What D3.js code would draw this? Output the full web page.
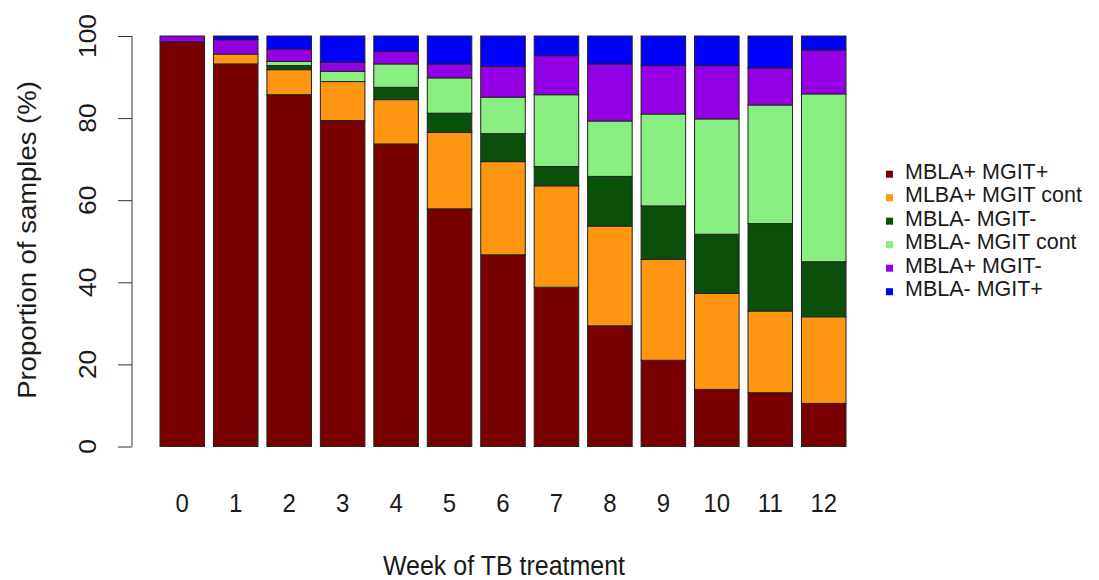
<!DOCTYPE html>
<html>
<head>
<meta charset="utf-8">
<script src="https://cdn.jsdelivr.net/npm/d3@7"></script>
<style>
  body { margin: 0; background: #fff; }
  text { font-family: "Liberation Sans", Arial, Helvetica, sans-serif; fill: #1a1a1a; }
</style>
</head>
<body>
<div id="chart"></div>
<script>
// Weeks of treatment (x categories)
const weeks = ["0", "1", "2", "3", "4", "5", "6", "7", "8", "9", "10", "11", "12"];

// Series, bottom to top (percent of samples)
const mblaPosMgitPos   = [98.6, 93.2, 85.7, 79.4, 73.7, 57.9, 46.7, 38.8, 29.4, 21.0, 13.9, 13.1, 10.5];
const mlbaPosMgitCont  = [0, 2.4, 6.1, 9.5, 10.8, 18.6, 22.7, 24.7, 24.3, 24.6, 23.4, 19.9, 21.1];
const mblaNegMgitNeg   = [0, 0, 1.0, 0, 3.0, 4.7, 6.8, 4.7, 12.1, 13.0, 14.4, 21.3, 13.4];
const mblaNegMgitCont  = [0, 0, 1.0, 2.5, 5.7, 8.6, 8.9, 17.5, 13.5, 22.4, 28.1, 28.9, 40.9];
const mblaPosMgitNeg   = [1.4, 3.5, 3.0, 2.2, 3.0, 3.4, 7.5, 9.5, 13.9, 11.8, 13.0, 9.0, 10.7];
const mblaNegMgitPos   = [0, 0.9, 3.2, 6.4, 3.8, 6.8, 7.4, 4.8, 6.8, 7.2, 7.2, 7.8, 3.4];

const seriesNames = ["MBLA+ MGIT+", "MLBA+ MGIT cont", "MBLA- MGIT-", "MBLA- MGIT cont", "MBLA+ MGIT-", "MBLA- MGIT+"];
const seriesValues = [mblaPosMgitPos, mlbaPosMgitCont, mblaNegMgitNeg, mblaNegMgitCont, mblaPosMgitNeg, mblaNegMgitPos];
const seriesColors = ["#780000", "#ff9612", "#0a500a", "#88ee80", "#9400e6", "#0000ff"];
const yTicks = [0, 20, 40, 60, 80, 100];

// build rows for d3.stack
const rows = weeks.map((w, i) => {
    const r = { week: w };
    seriesNames.forEach((s, j) => { r[s] = seriesValues[j][i]; });
    return r;
});

const width = 1099, height = 580;
const stretch = 1.1;   // text in the reference is slightly taller than wide

const svg = d3.select("#chart")
    .append("svg")
    .attr("width", width)
    .attr("height", height);

// x: bars from 160 to 846, gap = 0.2 * bar width
const x = d3.scaleBand()
    .domain(weeks)
    .range([160, 846])
    .paddingInner(0.2 / 1.2)
    .paddingOuter(0);

const y = d3.scaleLinear()
    .domain([0, 100])
    .range([446.5, 36]);

const stacked = d3.stack().keys(seriesNames)(rows);

// Draw the stacked bars
svg.append("g")
    .selectAll("g")
    .data(stacked)
    .enter()
    .append("g")
    .attr("fill", (d, i) => seriesColors[i])
    .selectAll("rect")
    .data(d => d.filter(p => p[1] - p[0] > 0))
    .enter()
    .append("rect")
    .attr("x", d => x(d.data.week))
    .attr("y", d => y(d[1]))
    .attr("width", x.bandwidth())
    .attr("height", d => y(d[0]) - y(d[1]))
    .style("stroke", "#222")
    .style("stroke-width", "1px");

// Y axis (R style: line on the left, rotated labels)
const yAxis = svg.append("g")
    .attr("transform", "translate(132,0)")
    .call(d3.axisLeft(y).tickValues(yTicks).tickSize(14).tickFormat(""));
yAxis.select(".domain").attr("stroke", "#333").attr("d", `M0,${y(0)}V${y(100)}`);
yAxis.selectAll(".tick line").attr("stroke", "#333");

svg.append("g")
    .selectAll("text")
    .data(yTicks)
    .enter()
    .append("text")
    .attr("transform", d => `translate(96,${y(d)}) rotate(-90) scale(${stretch},1)`)
    .style("text-anchor", "middle")
    .style("font-size", "24px")
    .text(d => d);

// X tick labels (no axis line)
svg.append("g")
    .selectAll("text")
    .data(weeks)
    .enter()
    .append("text")
    .attr("transform", d => `translate(${x(d) + x.bandwidth() / 2},512) scale(1,${stretch})`)
    .style("text-anchor", "middle")
    .style("font-size", "24px")
    .text(d => d);

// Axis titles
svg.append("text")
    .attr("transform", `translate(504,575) scale(1,${stretch})`)
    .style("text-anchor", "middle")
    .style("font-size", "25px")
    .text("Week of TB treatment");

svg.append("text")
    .attr("transform", `translate(36,240) rotate(-90) scale(${stretch},1)`)
    .style("text-anchor", "middle")
    .style("font-size", "25px")
    .text("Proportion of samples (%)");

// Legend
const legend = svg.append("g")
    .selectAll("g")
    .data(seriesNames)
    .enter()
    .append("g")
    .attr("transform", (d, i) => `translate(0,${170.7 + i * 23.5})`);

legend.append("rect")
    .attr("x", 886)
    .attr("y", 0)
    .attr("width", 7)
    .attr("height", 7)
    .attr("fill", (d, i) => seriesColors[i]);

legend.append("text")
    .attr("transform", `translate(905,8) scale(1,1.04)`)
    .style("font-size", "21.5px")
    .text(d => d);
</script>
</body>
</html>
